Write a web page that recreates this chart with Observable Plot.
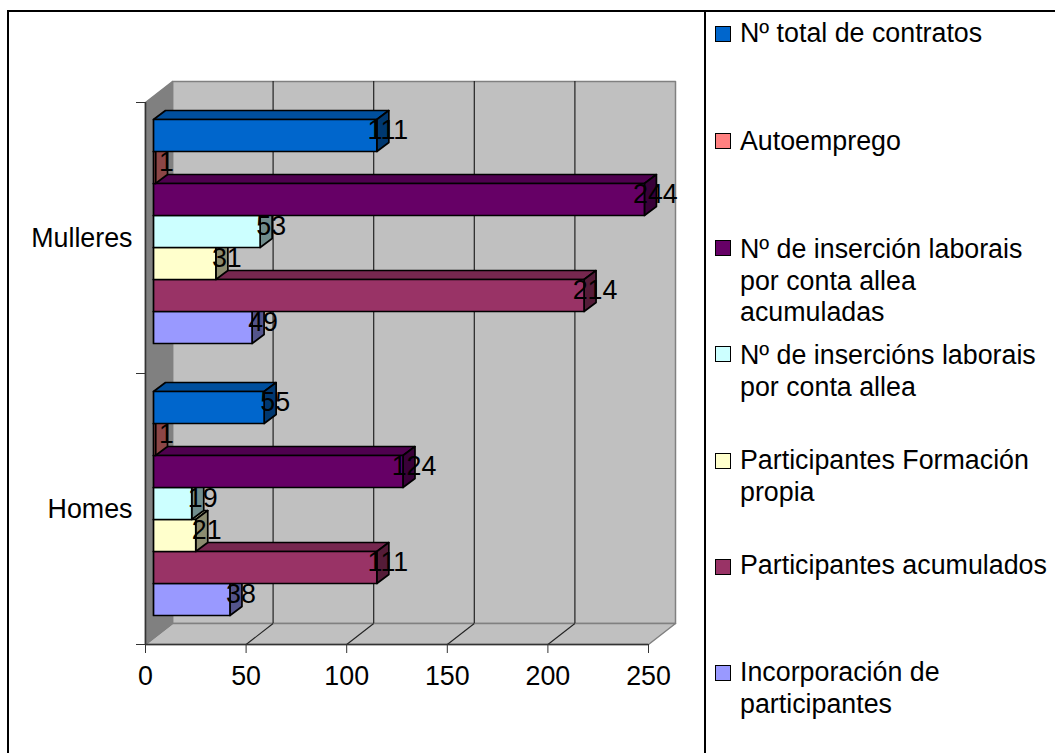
<!DOCTYPE html>
<html>
<head>
<meta charset="utf-8">
<script src="https://cdn.jsdelivr.net/npm/d3@7"></script>
<script src="https://cdn.jsdelivr.net/npm/@observablehq/plot@0.6"></script>
<style>
html,body{margin:0;padding:0;background:#fff}
#wrap{position:relative;width:1055px;height:753px;overflow:hidden;font-family:"Liberation Sans",Arial,sans-serif}
#wrap svg{position:absolute;left:0;top:0;font-family:"Liberation Sans",Arial,sans-serif}
#frame{position:absolute;left:7px;top:10px;width:1100px;height:800px;border:2px solid #000;box-sizing:border-box}
#divider{position:absolute;left:704px;top:11px;width:1.5px;height:760px;background:#000}
.item{position:absolute;left:740px;width:315px;font-size:26.8px;line-height:31.7px;color:#000;white-space:nowrap}
.sw{position:absolute;left:714.5px;width:14px;height:14px;border:1.5px solid #000;box-sizing:content-box}
</style>
</head>
<body>
<div id="wrap"><div id="frame"></div><div id="divider"></div></div>
<script>
const categories = ["Homes", "Mulleres"];
const seriesNames = [
  "Nº total de contratos",
  "Autoemprego",
  "Nº de inserción laborais por conta allea acumuladas",
  "Nº de insercións laborais por conta allea",
  "Participantes Formación propia",
  "Participantes acumulados",
  "Incorporación de participantes"
];
const seriesColors = ["#0066CC", "#FF8080", "#660066", "#CCFFFF", "#FFFFCC", "#993366", "#9999FF"];
const homesValues = [55, 1, 124, 19, 21, 111, 38];
const mulleresValues = [111, 1, 244, 53, 31, 214, 49];
const tickValues = [0, 50, 100, 150, 200, 250];

// legend layout
const legendLines = [
  ["Nº total de contratos"],
  ["Autoemprego"],
  ["Nº de inserción laborais", "por conta allea", "acumuladas"],
  ["Nº de insercións laborais", "por conta allea"],
  ["Participantes Formación", "propia"],
  ["Participantes acumulados"],
  ["Incorporación de", "participantes"]
];
const legendTops = [18, 126, 234, 340, 445, 550, 657];
const swatchTops = [26, 133, 240, 346, 453, 559, 665];

const pxX = 250 / 503, pxY = 2 / 542;      // data units per pixel
const wallDX = 27 * pxX, wallDY = 21 * pxY;
const barDX = 12 * pxX, barDY = 9 * pxY;
const barX0 = 8 * pxX;
const barH = 32 * pxY;
const groupTop = [615, 343].map(p => (644 - p) * pxY); // bottom edge of lowest bar in each group

function shade(hex, k) {
  const c = d3.rgb(hex);
  return d3.rgb(c.r * k, c.g * k, c.b * k).formatHex();
}
const polys = [];
function poly(id, fill, pts) {
  pts.forEach(([x, y]) => polys.push({id, fill, x, y}));
}
[homesValues, mulleresValues].forEach((vals, g) => {
  for (let i = vals.length - 1; i >= 0; i--) {
    const y0 = groupTop[g] + (vals.length - 1 - i) * barH, y1 = y0 + barH;
    const x0 = barX0, x1 = barX0 + vals[i];
    const col = seriesColors[i], id = g + "-" + i;
    poly(id + "t", shade(col, 0.77), [[x0, y1], [x0 + barDX, y1 + barDY], [x1 + barDX, y1 + barDY], [x1, y1]]);
    poly(id + "r", shade(col, 0.55), [[x1, y0], [x1 + barDX, y0 + barDY], [x1 + barDX, y1 + barDY], [x1, y1]]);
    poly(id + "f", col, [[x0, y0], [x1, y0], [x1, y1], [x0, y1]]);
  }
});
const labels = [];
[homesValues, mulleresValues].forEach((vals, g) => vals.forEach((v, i) => {
  labels.push({v, x: barX0 + v, y: groupTop[g] + (vals.length - 1 - i + 0.5) * barH});
}));

const top2 = 2 + wallDY;
const walls = [];
const wall = (id, fill, pts) => pts.forEach(([x, y]) => walls.push({id, fill, x, y}));
wall("back", "#C0C0C0", [[wallDX, wallDY], [250 + wallDX, wallDY], [250 + wallDX, top2], [wallDX, top2]]);
wall("floor", "#C0C0C0", [[0, 0], [250, 0], [250 + wallDX, wallDY], [wallDX, wallDY]]);
wall("side", "#808080", [[0, 0], [wallDX, wallDY], [wallDX, top2], [0, 2]]);

const grid = tickValues.slice(1, -1);

const chart = Plot.plot({
  width: 1055, height: 753,
  marginLeft: 145, marginRight: 407, marginTop: 102, marginBottom: 109,
  style: {background: "transparent", fontSize: "26.8px", color: "#000", overflow: "visible"},
  x: {domain: [0, 250]},
  y: {domain: [0, 2]},
  color: {type: "identity"},
  marks: [
    Plot.line(walls, {x: "x", y: "y", z: "id", fill: "fill", stroke: "#808080", strokeWidth: 1.5, curve: "linear-closed"}),
    Plot.ruleX(grid, {x: d => d + wallDX, y1: wallDY, y2: top2, stroke: "#222", strokeWidth: 1.2}),
    Plot.link(grid, {x1: d => d, y1: 0, x2: d => d + wallDX, y2: wallDY, stroke: "#222", strokeWidth: 1.1}),
    Plot.ruleX([0], {y1: 0, y2: 2, stroke: "#333", strokeWidth: 1.6}),
    Plot.ruleY([0], {x1: 0, x2: 250, stroke: "#333", strokeWidth: 1.6}),
    Plot.line(polys, {x: "x", y: "y", z: "id", fill: "fill", stroke: "#000", strokeWidth: 1.7, curve: "linear-closed"}),
    Plot.text(labels, {x: "x", y: "y", text: "v", dx: 11, dy: -5, fill: "#000", fontSize: 26.8}),
    Plot.axisX({ticks: tickValues, tickSize: 9, tickPadding: 12, label: null, fontSize: 26.8, tickFormat: d => String(d), stroke: "#333"}),
    Plot.axisY({ticks: [0, 1, 2], tickSize: 9, tickFormat: () => "", label: null, stroke: "#333"}),
    Plot.axisY({ticks: [0.5, 1.5], tickSize: 0, tickPadding: 13, label: null, fontSize: 26.8, tickFormat: d => categories[Math.floor(d)]})
  ]
});
const wrap = document.getElementById("wrap");
wrap.appendChild(chart);

seriesNames.forEach((name, i) => {
  const sw = document.createElement("div");
  sw.className = "sw";
  sw.style.top = swatchTops[i] + "px";
  sw.style.background = seriesColors[i];
  wrap.appendChild(sw);
  const it = document.createElement("div");
  it.className = "item";
  it.style.top = legendTops[i] + "px";
  it.innerHTML = legendLines[i].join("<br>");
  wrap.appendChild(it);
});
</script>
</body>
</html>
